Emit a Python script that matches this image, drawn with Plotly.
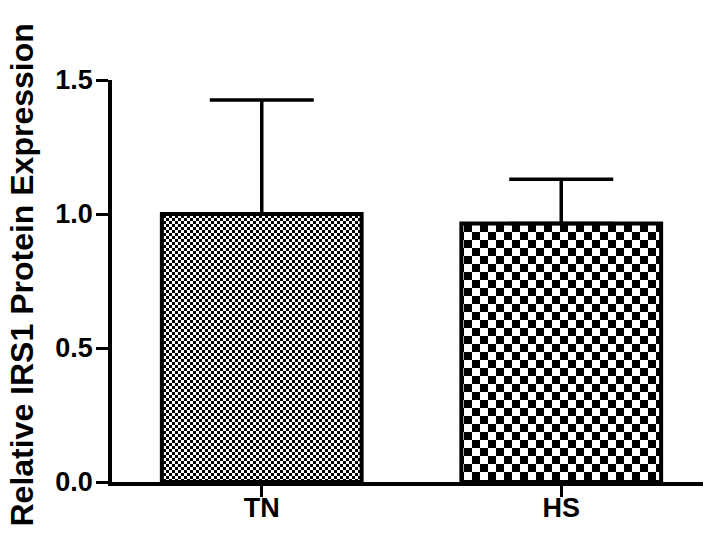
import plotly.graph_objects as go

categories = ["TN", "HS"]
means = [1.0, 0.965]
sem = [0.425, 0.165]
y_ticks = [0.0, 0.5, 1.0, 1.5]
y_tick_labels = ["0.0", "0.5", "1.0", "1.5"]
y_title = "Relative IRS1 Protein Expression"
checker_cells = [3, 8]

FONT = "Arial, Liberation Sans, sans-serif"


def checker_pattern(d):
    s = 2 * d
    path = f"M0,0H{d}V{d}H0ZM{d},{d}H{s}V{s}H{d}Z"
    try:
        p = go.bar.marker.Pattern(path=path, size=s, fgcolor="black",
                                  bgcolor="white", fillmode="replace", solidity=1)
    except Exception:
        p = go.bar.marker.Pattern(shape="x", size=d * 1.414, solidity=0.5,
                                  fgcolor="black", bgcolor="white", fillmode="replace")
    return p


fig = go.Figure()
for i in range(len(categories)):
    fig.add_trace(go.Bar(
        x=[categories[i]],
        y=[means[i]],
        width=0.667,
        marker=dict(
            color="white",
            line=dict(color="black", width=4),
            pattern=checker_pattern(checker_cells[i]),
        ),
        error_y=dict(type="data", array=[sem[i]], arrayminus=[0], symmetric=False,
                     color="black", thickness=3.5, width=52),
        showlegend=False,
    ))

fig.update_layout(
    width=703, height=530, autosize=False,
    margin=dict(l=104, r=0, t=72, b=56),
    paper_bgcolor="white", plot_bgcolor="white",
    barmode="overlay",
)
fig.update_xaxes(
    range=[-0.5, 1.5],
    categoryorder="array", categoryarray=categories,
    showline=True, linecolor="black", linewidth=3.5,
    ticks="outside", ticklen=11, tickwidth=3, tickcolor="black",
    tickfont=dict(family=FONT, size=27, color="black", weight="bold"),
    ticklabelstandoff=-12,
    showgrid=False, zeroline=False,
)
fig.update_yaxes(
    range=[0, 1.5],
    tickvals=y_ticks, ticktext=y_tick_labels,
    showline=True, linecolor="black", linewidth=3.5,
    ticks="outside", ticklen=12, tickwidth=3, tickcolor="black",
    tickfont=dict(family=FONT, size=27, color="black", weight="bold"),
    ticklabelstandoff=-2,
    showgrid=False, zeroline=False,
)
fig.add_annotation(
    text=y_title, textangle=-90,
    xref="paper", yref="paper", x=-0.151, y=0.515,
    xanchor="center", yanchor="middle", showarrow=False,
    font=dict(family=FONT, size=32, color="black", weight="bold"),
)

fig.write_html("out.html")
